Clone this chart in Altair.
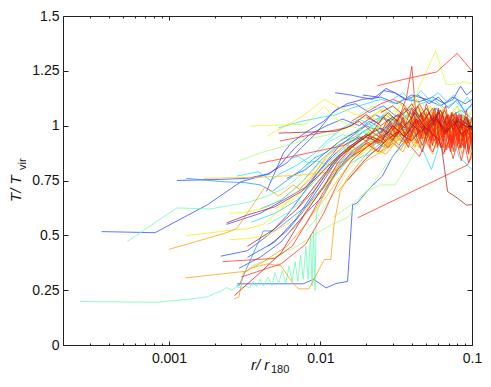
import altair as alt
import pandas as pd

# ---------------- data: radial temperature profiles (r/r180, T/Tvir) ----------------
B1 = [(0.00036, 0.517), (0.00081, 0.512), (0.0018, 0.64), (0.0030, 0.745), (0.0046, 0.78), (0.0054, 0.82), (0.0068, 0.90), (0.0085, 0.96), (0.011, 1.0), (0.014, 1.03), (0.018, 1.0), (0.023, 1.05), (0.028, 1.02), (0.034, 1.06), (0.041, 1.0), (0.05, 1.04), (0.06, 0.98), (0.072, 1.03), (0.085, 0.97), (0.1, 1.0)]
B2 = [(0.00113, 0.75), (0.0022, 0.755), (0.0033, 0.76), (0.0045, 0.78), (0.006, 0.83), (0.0075, 0.90), (0.0095, 0.97), (0.012, 1.06), (0.015, 1.1), (0.019, 1.12), (0.025, 1.13), (0.032, 1.10), (0.04, 1.14), (0.05, 1.12), (0.062, 1.09), (0.075, 1.13), (0.09, 1.10), (0.1, 1.12)]
B3 = [(0.00282, 0.279), (0.0045, 0.279), (0.0077, 0.279), (0.0090, 0.30), (0.0109, 0.26), (0.0126, 0.28), (0.0151, 0.29), (0.0163, 0.64), (0.0173, 0.645), (0.0208, 0.71), (0.0256, 0.77), (0.030, 0.86), (0.035, 0.92), (0.041, 0.97), (0.048, 1.0), (0.056, 0.95), (0.065, 1.02), (0.075, 0.98), (0.087, 1.03), (0.1, 0.99)]
B4 = [(0.0125, 1.15), (0.0158, 1.14), (0.0184, 1.13), (0.022, 1.12), (0.026, 1.16), (0.031, 1.15), (0.037, 1.12), (0.044, 1.14), (0.052, 1.10), (0.06, 1.13), (0.07, 1.08), (0.08, 1.12), (0.09, 1.06), (0.1, 1.10)]
B5 = [(0.019, 1.14), (0.024, 1.13), (0.027, 1.17), (0.031, 1.15), (0.036, 1.12), (0.045, 1.11), (0.055, 1.13), (0.066, 1.10), (0.075, 1.12), (0.084, 1.18), (0.092, 1.14), (0.1, 1.16)]
B6 = [(0.0022, 0.405), (0.0033, 0.43), (0.0045, 0.50), (0.006, 0.59), (0.0075, 0.68), (0.0095, 0.78), (0.012, 0.86), (0.015, 0.92), (0.019, 0.95), (0.024, 0.93), (0.03, 0.99), (0.037, 0.96), (0.045, 1.02), (0.055, 0.97), (0.066, 1.0), (0.08, 0.95), (0.1, 0.98)]
B7 = [(0.0029, 0.35), (0.004, 0.40), (0.0055, 0.47), (0.0075, 0.58), (0.0104, 0.68), (0.013, 0.80), (0.016, 0.88), (0.02, 0.93), (0.025, 0.97), (0.031, 1.02), (0.038, 0.98), (0.046, 1.05), (0.056, 1.0), (0.068, 1.04), (0.082, 0.98), (0.1, 1.02)]
B10 = [(0.0044, 0.70), (0.0057, 0.876), (0.0064, 0.92), (0.008, 0.97), (0.0105, 1.02), (0.013, 1.08), (0.017, 1.1), (0.021, 1.06), (0.026, 1.09), (0.032, 1.04), (0.04, 1.08), (0.05, 1.02), (0.06, 1.06), (0.072, 1.0), (0.086, 1.05), (0.1, 1.02)]
B12 = [(0.0024, 0.55), (0.004, 0.6), (0.006, 0.67), (0.008, 0.72), (0.0105, 0.82), (0.013, 0.9), (0.016, 0.95), (0.02, 1.0), (0.025, 0.97), (0.03, 1.03), (0.036, 0.98), (0.043, 1.05), (0.05, 1.0), (0.06, 1.06), (0.07, 1.01), (0.082, 1.05), (0.1, 1.01)]
B13 = [(0.0045, 0.45), (0.006, 0.52), (0.0075, 0.6), (0.009, 0.68), (0.011, 0.77), (0.013, 0.85), (0.016, 0.91), (0.02, 0.96), (0.024, 0.92), (0.029, 1.0), (0.035, 0.96), (0.042, 1.03), (0.05, 0.98), (0.06, 1.04), (0.072, 0.99), (0.086, 1.03), (0.1, 0.98)]
E1 = [(0.0033, 0.40), (0.005, 0.47), (0.007, 0.58), (0.0095, 0.72), (0.012, 0.83), (0.015, 0.9), (0.019, 0.94), (0.024, 0.99), (0.03, 0.95), (0.037, 1.01), (0.045, 0.97), (0.055, 1.03), (0.067, 0.98), (0.082, 1.02), (0.1, 0.97)]
E9 = [(0.006, 0.76), (0.008, 0.8), (0.0105, 0.87), (0.0135, 0.93), (0.017, 0.97), (0.021, 1.02), (0.026, 0.98), (0.032, 1.05), (0.039, 1.0), (0.047, 1.06), (0.057, 1.01), (0.069, 1.05), (0.083, 0.99), (0.1, 1.03)]
B8 = [(0.0028, 0.27), (0.0029, 0.27), (0.0042, 0.52), (0.0050, 0.52), (0.0083, 0.64), (0.011, 0.74), (0.014, 0.84), (0.018, 0.90), (0.022, 0.93), (0.027, 0.90), (0.033, 0.97), (0.04, 1.0), (0.048, 0.94), (0.058, 1.0), (0.07, 0.96), (0.085, 1.02), (0.1, 0.97)]
C1 = [(0.0013, 0.76), (0.0022, 0.745), (0.0032, 0.74), (0.004, 0.73), (0.0048, 0.70), (0.006, 0.75), (0.0075, 0.80), (0.009, 0.85), (0.011, 0.88), (0.014, 0.94), (0.018, 0.98), (0.022, 1.02), (0.027, 1.05), (0.033, 1.0), (0.04, 1.06), (0.048, 1.03), (0.058, 1.08), (0.07, 1.04), (0.085, 1.07), (0.1, 1.03)]
E2 = [(0.004, 0.62), (0.0055, 0.66), (0.0075, 0.74), (0.01, 0.84), (0.013, 0.91), (0.017, 0.95), (0.021, 0.99), (0.026, 1.04), (0.032, 1.0), (0.039, 1.06), (0.047, 1.01), (0.057, 1.05), (0.07, 0.99), (0.085, 1.04), (0.1, 1.0)]
C2 = [(0.0053, 0.99), (0.0075, 1.02), (0.0105, 1.04), (0.0127, 1.05), (0.016, 1.08), (0.02, 1.1), (0.025, 1.12), (0.031, 1.1), (0.038, 1.13), (0.046, 1.1), (0.056, 1.12), (0.066, 1.08), (0.078, 1.11), (0.09, 1.07), (0.1, 1.09)]
C3 = [(0.0063, 0.85), (0.0072, 0.86), (0.0082, 0.83), (0.0095, 0.84), (0.011, 0.82), (0.013, 0.83), (0.0147, 0.84), (0.018, 0.88), (0.022, 0.92), (0.027, 0.95), (0.033, 0.9), (0.04, 0.97), (0.048, 0.93), (0.057, 0.99), (0.066, 0.93), (0.075, 0.97), (0.085, 0.91), (0.1, 0.95)]
C4 = [(0.02, 0.86), (0.025, 0.9), (0.03, 0.93), (0.036, 0.97), (0.043, 0.95), (0.05, 0.99), (0.058, 0.93), (0.066, 0.9), (0.074, 0.95), (0.082, 0.86), (0.09, 0.83), (0.1, 0.80)]
C5 = [(0.016, 0.83), (0.02, 0.87), (0.025, 0.92), (0.03, 0.96), (0.036, 0.93), (0.042, 1.0), (0.048, 0.88), (0.054, 0.80), (0.06, 0.9), (0.067, 0.96), (0.075, 0.92), (0.085, 1.0), (0.1, 0.96)]
C7 = [(0.0028, 0.77), (0.0039, 0.79), (0.0047, 0.75), (0.0054, 0.78), (0.007, 0.82), (0.009, 0.87), (0.011, 0.93), (0.014, 0.99), (0.018, 1.03), (0.022, 1.0), (0.027, 1.06), (0.033, 1.02), (0.04, 1.07), (0.048, 1.03), (0.057, 1.08), (0.068, 1.03), (0.08, 1.06), (0.1, 1.02)]
E3 = [(0.0035, 0.56), (0.005, 0.6), (0.007, 0.66), (0.0095, 0.76), (0.012, 0.85), (0.015, 0.91), (0.019, 0.97), (0.024, 0.94), (0.03, 1.01), (0.037, 0.97), (0.045, 1.04), (0.055, 0.99), (0.066, 1.05), (0.08, 1.0), (0.1, 1.03)]
E11 = [(0.01, 0.7), (0.0125, 0.77), (0.015, 0.84), (0.018, 0.9), (0.022, 0.95), (0.027, 0.99), (0.033, 0.95), (0.04, 1.02), (0.048, 0.98), (0.058, 1.04), (0.07, 0.99), (0.085, 1.03), (0.1, 0.99)]
F6 = [(0.03, 1.12), (0.035, 1.15), (0.04, 1.11), (0.046, 1.16), (0.052, 1.12), (0.06, 1.15), (0.068, 1.11), (0.076, 1.14), (0.085, 1.09), (0.093, 1.13), (0.1, 1.1)]
A1 = [(0.00026, 0.198), (0.00083, 0.195), (0.0013, 0.207), (0.0018, 0.22), (0.002, 0.235), (0.0022, 0.245), (0.0024, 0.262), (0.0026, 0.25), (0.0028, 0.265), (0.003, 0.26), (0.0032, 0.27), (0.0034, 0.26), (0.0036, 0.29), (0.0038, 0.265), (0.004, 0.30), (0.0042, 0.27), (0.0045, 0.31), (0.0048, 0.27), (0.005, 0.33), (0.0053, 0.28), (0.0056, 0.34), (0.0059, 0.28), (0.0062, 0.36), (0.0065, 0.29), (0.0068, 0.38), (0.0071, 0.29), (0.0074, 0.41), (0.0077, 0.30), (0.008, 0.45), (0.0083, 0.30), (0.0086, 0.50), (0.0088, 0.27), (0.009, 0.52), (0.0092, 0.25), (0.0094, 0.60), (0.011, 0.72), (0.014, 0.82), (0.018, 0.88), (0.022, 0.92), (0.027, 0.95), (0.033, 0.93), (0.04, 0.98), (0.048, 0.95), (0.057, 1.0), (0.068, 0.96), (0.08, 1.0), (0.1, 0.96)]
A2 = [(0.00053, 0.472), (0.00113, 0.625), (0.00186, 0.62), (0.0033, 0.65), (0.0045, 0.68), (0.006, 0.72), (0.0075, 0.78), (0.009, 0.85), (0.011, 0.92), (0.014, 0.96), (0.018, 0.93), (0.022, 0.99), (0.027, 0.96), (0.033, 1.02), (0.04, 0.97), (0.048, 1.03), (0.058, 0.98), (0.07, 1.02), (0.085, 0.97), (0.1, 1.0)]
D7 = [(0.016, 0.92), (0.019, 0.97), (0.023, 1.0), (0.027, 0.96), (0.032, 1.03), (0.037, 0.98), (0.042, 1.04), (0.048, 0.99), (0.055, 1.05), (0.062, 0.98), (0.07, 1.04), (0.078, 0.97), (0.088, 1.02), (0.1, 0.97)]
E4 = [(0.0045, 0.55), (0.006, 0.6), (0.008, 0.67), (0.0105, 0.77), (0.0135, 0.86), (0.017, 0.92), (0.021, 0.97), (0.026, 0.94), (0.032, 1.0), (0.039, 0.96), (0.047, 1.02), (0.057, 0.97), (0.069, 1.03), (0.083, 0.98), (0.1, 1.01)]
A3 = [(0.0035, 0.36), (0.005, 0.40), (0.007, 0.45), (0.0095, 0.51), (0.012, 0.55), (0.015, 0.58), (0.018, 0.65), (0.022, 0.73), (0.027, 0.82), (0.032, 0.88), (0.038, 0.93), (0.045, 0.9), (0.053, 0.96), (0.062, 0.93), (0.073, 0.98), (0.085, 0.94), (0.1, 0.97)]
A4 = [(0.012, 0.58), (0.016, 0.64), (0.02, 0.70), (0.025, 0.73), (0.031, 0.73), (0.036, 0.80), (0.042, 0.88), (0.05, 0.93), (0.058, 0.9), (0.066, 0.96), (0.075, 0.93), (0.086, 0.98), (0.1, 0.95)]
A5 = [(0.0029, 0.84), (0.0042, 0.88), (0.006, 0.91), (0.0085, 0.94), (0.0127, 0.966), (0.016, 1.0), (0.02, 0.97), (0.025, 1.04), (0.031, 1.0), (0.038, 1.06), (0.046, 1.02), (0.055, 1.07), (0.065, 1.02), (0.077, 1.05), (0.09, 1.0), (0.1, 1.03)]
D6 = [(0.014, 0.9), (0.017, 0.95), (0.02, 1.02), (0.023, 0.98), (0.027, 1.05), (0.031, 1.0), (0.035, 1.06), (0.04, 1.01), (0.045, 1.08), (0.051, 1.02), (0.057, 1.07), (0.064, 1.0), (0.072, 1.05), (0.08, 0.99), (0.089, 1.04), (0.1, 1.0)]
E8 = [(0.008, 0.52), (0.01, 0.6), (0.0125, 0.7), (0.015, 0.79), (0.018, 0.86), (0.022, 0.91), (0.027, 0.95), (0.033, 0.92), (0.04, 0.98), (0.048, 0.94), (0.058, 1.0), (0.07, 0.95), (0.085, 1.01), (0.1, 0.96)]
F5 = [(0.018, 1.05), (0.022, 1.09), (0.027, 1.06), (0.032, 1.11), (0.038, 1.07), (0.045, 1.12), (0.052, 1.06), (0.06, 1.1), (0.07, 1.04), (0.08, 1.09), (0.09, 1.03), (0.1, 1.07)]
G3 = [(0.0025, 0.60), (0.0033, 0.607), (0.0045, 0.63), (0.006, 0.68), (0.008, 0.76), (0.0105, 0.85), (0.013, 0.92), (0.016, 0.97), (0.02, 0.94), (0.025, 1.0), (0.03, 0.96), (0.036, 1.02), (0.043, 0.97), (0.05, 1.03), (0.06, 0.98), (0.072, 1.02), (0.085, 0.96), (0.1, 0.99)]
G4 = [(0.0034, 0.998), (0.008, 1.007), (0.0106, 1.088), (0.0127, 1.03), (0.016, 1.0), (0.02, 1.05), (0.025, 1.02), (0.031, 1.07), (0.037, 1.03), (0.045, 1.08), (0.054, 1.02), (0.064, 1.06), (0.076, 1.01), (0.088, 1.05), (0.1, 1.02)]
GY = [(0.02, 0.97), (0.026, 1.0), (0.032, 1.02), (0.037, 1.07), (0.041, 1.1), (0.045, 1.18), (0.0575, 1.34), (0.0677, 1.187), (0.078, 1.19), (0.0889, 1.2), (0.1, 1.19)]
Y1 = [(0.00445, 0.953), (0.0075, 1.04), (0.0106, 1.12), (0.0127, 1.09), (0.016, 1.06), (0.02, 1.03), (0.025, 1.07), (0.03, 1.02), (0.036, 1.08), (0.043, 1.0), (0.05, 1.05), (0.058, 0.99), (0.066, 1.04), (0.075, 0.98), (0.086, 1.03), (0.1, 1.0)]
Y2 = [(0.0013, 0.499), (0.0028, 0.526), (0.0033, 0.53), (0.0042, 0.55), (0.0055, 0.62), (0.007, 0.70), (0.009, 0.78), (0.011, 0.85), (0.014, 0.9), (0.018, 0.88), (0.022, 0.94), (0.027, 0.9), (0.033, 0.97), (0.04, 0.93), (0.048, 0.99), (0.057, 0.94), (0.068, 1.0), (0.08, 0.95), (0.1, 0.98)]
Y3 = [(0.0025, 0.48), (0.0033, 0.485), (0.0045, 0.5), (0.006, 0.55), (0.008, 0.62), (0.0105, 0.72), (0.013, 0.8), (0.016, 0.86), (0.02, 0.9), (0.025, 0.87), (0.03, 0.95), (0.036, 0.92), (0.043, 0.98), (0.05, 0.94), (0.06, 1.0), (0.07, 0.96), (0.082, 1.01), (0.1, 0.97)]
D2 = [(0.018, 0.86), (0.021, 0.92), (0.024, 0.97), (0.027, 0.93), (0.03, 1.0), (0.033, 0.94), (0.037, 1.04), (0.041, 0.98), (0.045, 1.07), (0.049, 0.99), (0.054, 1.06), (0.059, 0.97), (0.064, 1.05), (0.069, 0.98), (0.075, 1.04), (0.081, 0.96), (0.088, 1.03), (0.094, 0.97), (0.1, 1.02)]
E5 = [(0.005, 0.62), (0.0065, 0.66), (0.0085, 0.73), (0.011, 0.82), (0.014, 0.88), (0.018, 0.93), (0.022, 0.97), (0.027, 0.93), (0.033, 1.0), (0.04, 0.95), (0.048, 1.02), (0.058, 0.97), (0.07, 1.03), (0.085, 0.97), (0.1, 1.0)]
F4 = [(0.022, 1.04), (0.026, 1.08), (0.03, 1.03), (0.034, 1.1), (0.038, 1.05), (0.043, 1.12), (0.048, 1.04), (0.053, 1.09), (0.059, 1.02), (0.065, 1.08), (0.072, 1.03), (0.08, 1.09), (0.088, 1.02), (0.1, 1.06)]
O5 = [(0.0017, 0.76), (0.004, 0.765), (0.0075, 0.775), (0.012, 0.79), (0.015, 0.84), (0.019, 0.90), (0.024, 0.94), (0.029, 0.91), (0.035, 0.97), (0.042, 0.93), (0.05, 1.0), (0.06, 0.95), (0.071, 1.01), (0.085, 0.95), (0.1, 0.98)]
D8 = [(0.027, 0.9), (0.03, 0.96), (0.033, 1.0), (0.036, 0.95), (0.039, 1.03), (0.042, 0.98), (0.045, 1.05), (0.048, 0.96), (0.051, 1.02), (0.054, 0.94), (0.057, 1.03), (0.06, 0.98), (0.064, 1.07), (0.068, 0.97), (0.072, 1.03), (0.076, 0.95), (0.08, 1.0), (0.085, 0.93), (0.09, 1.0), (0.095, 0.92), (0.1, 0.97)]
E10 = [(0.009, 0.6), (0.011, 0.68), (0.0135, 0.77), (0.0165, 0.85), (0.02, 0.9), (0.024, 0.94), (0.029, 0.9), (0.035, 0.97), (0.042, 0.92), (0.05, 0.99), (0.06, 0.93), (0.072, 1.0), (0.086, 0.94), (0.1, 0.98)]
O1 = [(0.001, 0.436), (0.0023, 0.508), (0.0028, 0.53), (0.0043, 0.72), (0.0053, 0.68), (0.0058, 0.70), (0.0066, 0.73), (0.0073, 0.71), (0.0087, 0.76), (0.011, 0.86), (0.014, 0.92), (0.018, 0.89), (0.022, 0.95), (0.027, 0.92), (0.033, 0.98), (0.04, 0.94), (0.048, 1.0), (0.057, 0.95), (0.068, 1.01), (0.08, 0.96), (0.1, 0.99)]
O2 = [(0.00128, 0.306), (0.0033, 0.337), (0.0034, 0.35), (0.0045, 0.37), (0.0055, 0.36), (0.0066, 0.28), (0.0072, 0.256), (0.0084, 0.256), (0.0106, 0.39), (0.0117, 0.39), (0.0123, 0.55), (0.0135, 0.70), (0.015, 0.76), (0.018, 0.83), (0.022, 0.9), (0.027, 0.87), (0.033, 0.94), (0.04, 0.9), (0.048, 0.97), (0.058, 0.92), (0.07, 0.98), (0.084, 0.93), (0.1, 0.96)]
O3 = [(0.0027, 0.21), (0.0029, 0.22), (0.0031, 0.33), (0.0042, 0.38), (0.006, 0.45), (0.008, 0.55), (0.0105, 0.68), (0.013, 0.80), (0.016, 0.87), (0.02, 0.92), (0.025, 0.88), (0.03, 0.96), (0.036, 0.92), (0.043, 0.99), (0.051, 0.93), (0.06, 1.0), (0.07, 0.95), (0.082, 1.0), (0.1, 0.96)]
D1 = [(0.015, 0.88), (0.018, 0.93), (0.021, 0.97), (0.024, 0.92), (0.027, 1.01), (0.03, 0.95), (0.033, 1.03), (0.036, 0.96), (0.04, 1.05), (0.044, 0.97), (0.048, 1.04), (0.052, 0.95), (0.057, 1.06), (0.062, 0.96), (0.067, 1.03), (0.073, 0.94), (0.079, 1.02), (0.086, 0.95), (0.093, 1.01), (0.1, 0.94)]
D11 = [(0.013, 0.7), (0.016, 0.77), (0.02, 0.84), (0.025, 0.88), (0.03, 0.92), (0.035, 0.88), (0.04, 0.96), (0.045, 0.9), (0.05, 0.98), (0.055, 0.91), (0.061, 0.99), (0.067, 0.9), (0.074, 0.97), (0.082, 0.89), (0.09, 0.97), (0.1, 0.91)]
E6 = [(0.006, 0.5), (0.0075, 0.57), (0.0095, 0.68), (0.012, 0.79), (0.015, 0.87), (0.019, 0.92), (0.023, 0.96), (0.028, 0.92), (0.034, 0.99), (0.041, 0.94), (0.049, 1.01), (0.058, 0.95), (0.07, 1.02), (0.084, 0.96), (0.1, 0.99)]
F2 = [(0.026, 0.88), (0.03, 0.92), (0.034, 0.89), (0.038, 0.96), (0.042, 0.9), (0.046, 0.98), (0.05, 0.92), (0.055, 0.87), (0.06, 0.96), (0.065, 0.9), (0.07, 0.98), (0.075, 0.89), (0.08, 0.95), (0.086, 0.87), (0.092, 0.94), (0.1, 0.86)]
R1 = [(0.0238, 1.182), (0.035, 1.21), (0.0585, 1.245), (0.0798, 1.33), (0.1, 1.25)]
R2 = [(0.016, 0.86), (0.02, 0.9), (0.025, 0.95), (0.03, 0.98), (0.034, 1.06), (0.037, 1.13), (0.0401, 1.27), (0.042, 1.1), (0.044, 1.0), (0.047, 0.94), (0.05, 1.02), (0.053, 0.92), (0.056, 1.05), (0.059, 0.9), (0.062, 1.03), (0.066, 0.88), (0.07, 1.02), (0.074, 0.92), (0.079, 1.05), (0.084, 0.9), (0.09, 1.0), (0.095, 0.87), (0.1, 0.98)]
R3 = [(0.0176, 0.58), (0.093, 0.82), (0.1, 0.86)]
R8 = [(0.0054, 0.93), (0.0147, 0.99), (0.018, 1.02), (0.022, 0.97), (0.026, 1.04), (0.03, 0.98), (0.034, 1.05), (0.038, 0.96), (0.042, 1.03), (0.046, 0.94), (0.05, 1.05), (0.055, 0.95), (0.06, 1.06), (0.065, 0.93), (0.07, 1.03), (0.075, 0.92), (0.08, 1.04), (0.086, 0.93), (0.093, 1.02), (0.1, 0.94)]
R9 = [(0.0039, 0.827), (0.0143, 0.91), (0.018, 0.95), (0.022, 0.91), (0.026, 0.98), (0.03, 0.93), (0.034, 1.0), (0.038, 0.92), (0.042, 1.02), (0.046, 0.95), (0.05, 1.04), (0.054, 0.93), (0.058, 1.02), (0.062, 0.9), (0.067, 1.0), (0.072, 0.88), (0.077, 0.99), (0.083, 0.9), (0.09, 1.0), (0.1, 0.93)]
R10 = [(0.00226, 0.38), (0.005, 0.395), (0.0065, 0.45), (0.0083, 0.57), (0.0105, 0.70), (0.013, 0.8), (0.016, 0.86), (0.02, 0.92), (0.024, 0.88), (0.028, 0.96), (0.033, 0.91), (0.038, 0.99), (0.044, 0.92), (0.05, 1.02), (0.056, 0.93), (0.063, 1.0), (0.07, 0.9), (0.078, 0.99), (0.087, 0.91), (0.1, 0.97)]
R11 = [(0.003, 0.31), (0.0055, 0.37), (0.008, 0.46), (0.0105, 0.6), (0.013, 0.74), (0.016, 0.84), (0.02, 0.9), (0.024, 0.94), (0.028, 0.9), (0.032, 0.97), (0.037, 0.92), (0.042, 1.0), (0.047, 0.91), (0.053, 1.01), (0.059, 0.92), (0.066, 1.02), (0.073, 0.9), (0.081, 1.0), (0.09, 0.91), (0.1, 0.97)]
E7 = [(0.007, 0.62), (0.009, 0.7), (0.0115, 0.8), (0.0145, 0.88), (0.018, 0.93), (0.022, 0.97), (0.027, 0.93), (0.032, 1.01), (0.038, 0.95), (0.045, 1.03), (0.053, 0.94), (0.062, 1.02), (0.073, 0.93), (0.086, 1.0), (0.1, 0.94)]
D3 = [(0.02, 0.93), (0.023, 0.99), (0.026, 0.94), (0.029, 1.02), (0.032, 0.95), (0.035, 1.04), (0.038, 0.97), (0.041, 1.07), (0.044, 0.96), (0.047, 1.05), (0.05, 0.93), (0.053, 1.04), (0.056, 0.96), (0.06, 1.08), (0.064, 0.95), (0.068, 1.05), (0.072, 0.92), (0.076, 1.02), (0.08, 0.91), (0.085, 1.03), (0.09, 0.9), (0.095, 1.0), (0.1, 0.92)]
D4 = [(0.025, 0.97), (0.028, 1.03), (0.031, 0.96), (0.034, 1.01), (0.037, 0.93), (0.04, 1.03), (0.043, 0.95), (0.046, 1.06), (0.049, 0.96), (0.052, 1.03), (0.055, 0.91), (0.058, 1.04), (0.061, 0.94), (0.064, 1.06), (0.067, 0.96), (0.07, 1.04), (0.073, 0.9), (0.077, 1.01), (0.081, 0.92), (0.085, 1.04), (0.089, 0.93), (0.094, 1.02), (0.1, 0.88)]
D5 = [(0.022, 0.9), (0.025, 0.95), (0.028, 0.99), (0.031, 0.94), (0.034, 1.02), (0.038, 0.98), (0.042, 1.04), (0.046, 0.97), (0.05, 1.06), (0.054, 0.99), (0.058, 1.03), (0.063, 0.95), (0.068, 1.02), (0.073, 0.96), (0.078, 1.05), (0.083, 0.97), (0.088, 1.02), (0.094, 0.94), (0.1, 0.99)]
D10 = [(0.016, 1.02), (0.02, 1.06), (0.025, 1.1), (0.03, 1.12), (0.035, 1.1), (0.04, 1.05), (0.045, 1.1), (0.05, 1.04), (0.055, 1.08), (0.06, 1.01), (0.066, 1.07), (0.072, 1.0), (0.078, 1.06), (0.085, 0.98), (0.092, 1.04), (0.1, 0.99)]
D12 = [(0.03, 0.98), (0.035, 1.02), (0.04, 0.97), (0.045, 1.03), (0.05, 0.98), (0.055, 1.06), (0.058, 0.92), (0.061, 1.05), (0.064, 0.9), (0.067, 1.04), (0.07, 0.93), (0.073, 1.06), (0.076, 0.91), (0.079, 1.03), (0.082, 0.92), (0.085, 1.05), (0.088, 0.9), (0.091, 1.0), (0.094, 0.88), (0.097, 0.99), (0.1, 0.9)]
F1 = [(0.03, 1.0), (0.033, 1.05), (0.036, 1.0), (0.04, 1.08), (0.043, 1.02), (0.046, 0.99), (0.05, 1.1), (0.054, 1.03), (0.057, 1.08), (0.06, 0.99), (0.063, 1.04), (0.067, 1.09), (0.07, 1.01), (0.074, 1.06), (0.078, 0.98), (0.082, 1.05), (0.087, 1.0), (0.092, 1.07), (0.096, 0.99), (0.1, 1.04)]
F3 = [(0.035, 0.95), (0.038, 0.9), (0.041, 0.98), (0.044, 0.93), (0.047, 0.88), (0.05, 0.97), (0.053, 0.9), (0.056, 0.99), (0.06, 0.91), (0.064, 0.97), (0.068, 0.89), (0.072, 0.96), (0.076, 0.88), (0.08, 0.97), (0.085, 0.9), (0.09, 0.98), (0.095, 0.89), (0.1, 0.95)]
F7 = [(0.04, 0.9), (0.045, 0.86), (0.05, 0.93), (0.055, 0.88), (0.06, 0.95), (0.065, 0.87), (0.07, 0.93), (0.075, 0.85), (0.08, 0.92), (0.085, 0.84), (0.09, 0.91), (0.095, 0.83), (0.1, 0.88)]
R5 = [(0.0027, 0.225), (0.004, 0.33), (0.0055, 0.42), (0.008, 0.607), (0.0105, 0.72), (0.013, 0.83), (0.016, 0.9), (0.02, 0.95), (0.025, 0.92), (0.03, 1.0), (0.036, 0.95), (0.043, 1.03), (0.05, 0.97), (0.058, 1.04), (0.066, 0.96), (0.076, 1.02), (0.088, 0.95), (0.1, 1.0)]
D9 = [(0.02, 1.04), (0.024, 1.01), (0.028, 1.06), (0.032, 1.02), (0.036, 1.08), (0.04, 1.03), (0.044, 1.09), (0.048, 1.02), (0.052, 1.06), (0.056, 1.0), (0.06, 1.07), (0.065, 1.01), (0.07, 1.05), (0.075, 0.98), (0.08, 1.04), (0.086, 0.99), (0.093, 1.03), (0.1, 0.98)]
R4 = [(0.015, 0.75), (0.02, 0.85), (0.026, 0.92), (0.032, 0.97), (0.04, 0.93), (0.048, 1.0), (0.055, 0.96), (0.06, 0.94), (0.063, 0.9), (0.066, 0.80), (0.069, 0.70), (0.08, 0.67), (0.0917, 0.638), (0.1, 0.64)]
R6 = [(0.0024, 0.557), (0.0033, 0.593), (0.005, 0.63), (0.0075, 0.7), (0.01, 0.78), (0.013, 0.86), (0.016, 0.91), (0.02, 0.96), (0.025, 0.93), (0.03, 1.0), (0.036, 0.95), (0.043, 1.02), (0.05, 0.96), (0.058, 1.03), (0.068, 0.97), (0.08, 1.02), (0.1, 0.98)]
R7 = [(0.0053, 0.966), (0.0127, 0.975), (0.016, 1.0), (0.02, 1.05), (0.025, 1.0), (0.03, 1.04), (0.036, 0.99), (0.042, 1.06), (0.05, 0.98), (0.058, 1.05), (0.066, 0.97), (0.075, 1.03), (0.085, 0.96), (0.1, 1.0)]
E12 = [(0.0033, 0.45), (0.005, 0.53), (0.007, 0.62), (0.0095, 0.74), (0.0125, 0.84), (0.016, 0.9), (0.02, 0.95), (0.025, 0.99), (0.031, 0.95), (0.038, 1.02), (0.046, 0.97), (0.056, 1.04), (0.068, 0.98), (0.083, 1.03), (0.1, 0.99)]
F8 = [(0.025, 1.06), (0.03, 1.09), (0.035, 1.05), (0.04, 1.1), (0.045, 1.04), (0.05, 1.08), (0.056, 1.02), (0.062, 1.07), (0.068, 1.0), (0.075, 1.05), (0.083, 0.99), (0.091, 1.04), (0.1, 0.98)]

# profile list in drawing order: (colour key, profile)
LINES = [
    ("blue", B1), ("blue", B2), ("blue", B3), ("blue", B4), ("blue", B5), ("blue", B6),
    ("blue", B7), ("blue", B10), ("blue", B12), ("blue", B13), ("blue", E1), ("blue", E9),
    ("lblue", B8), ("lblue", C1), ("lblue", E2),
    ("cyan", C2), ("cyan", C3), ("cyan", C4), ("cyan", C5), ("cyan", C7), ("cyan", E3),
    ("cyan", E11), ("cyan", F6),
    ("aqua", A1), ("aqua", A2), ("aqua", D7), ("aqua", E4),
    ("lgreen", A3), ("lgreen", A4), ("lgreen", A5), ("lgreen", D6), ("lgreen", E8), ("lgreen", F5),
    ("ygreen", G3), ("ygreen", G4), ("ygreen", GY),
    ("yellow", Y1), ("yellow", Y2), ("yellow", Y3), ("yellow", D2), ("yellow", E5), ("yellow", F4),
    ("gold", O5), ("gold", D8), ("gold", E10),
    ("orange", O1), ("orange", O2), ("orange", O3), ("orange", D1), ("orange", D11),
    ("orange", E6), ("orange", F2),
    ("red", R1), ("red", R2), ("red", R3), ("red", R8), ("red", R9), ("red", R10),
    ("red", R11), ("red", E7), ("red", D3), ("red", D4), ("orred", D5), ("red", D10),
    ("red", D12), ("red", F1), ("red", F3), ("red", F7),
    ("dred", R5), ("dred", D9),
    ("brown", R4), ("brown", R6), ("brown", R7), ("brown", E12), ("brown", F8),
]

# axis ticks / labels
X_LABELS = [0.001, 0.01, 0.1]
X_TICKS = [0.0002, 0.0003, 0.0004, 0.0005, 0.0006, 0.0007, 0.0008, 0.0009,
           0.001, 0.002, 0.003, 0.004, 0.005, 0.006, 0.007, 0.008, 0.009,
           0.01, 0.02, 0.03, 0.04, 0.05, 0.06, 0.07, 0.08, 0.09, 0.1]
Y_TICKS = [0, 0.25, 0.5, 0.75, 1, 1.25, 1.5]
X_DOMAIN = [0.0002, 0.1]
Y_DOMAIN = [0, 1.5]

# ---------------- styles ----------------
PALETTE = {
    "blue": "#2440ff", "lblue": "#1090ff", "cyan": "#18d8ff", "aqua": "#5cffb0",
    "lgreen": "#9cff70", "ygreen": "#d0ff30", "yellow": "#ffe800", "gold": "#ffc000",
    "orange": "#ff9800", "orred": "#ff6000", "red": "#ff2a10", "dred": "#d81010",
    "brown": "#b01818",
}
W, H = 409, 329
FRAME = "#222222"
FONT = "Liberation Sans"

rows = []
for i, (c, pts) in enumerate(LINES):
    for k, (x, y) in enumerate(pts):
        rows.append({"id": f"L{i:02d}", "k": k, "x": x, "y": y})
df = pd.DataFrame(rows)
ids = [f"L{i:02d}" for i in range(len(LINES))]
cols = [PALETTE[c] for c, _ in LINES]

xs = alt.Scale(type="log", domain=X_DOMAIN)
ys = alt.Scale(domain=Y_DOMAIN)
DEC = "abs(log(datum.value)/LN10 - round(log(datum.value)/LN10)) < 0.01"
xtick_size = {"condition": {"test": DEC, "value": 4}, "value": 2}

base = alt.Chart(df)

lines = base.mark_line(strokeWidth=1, opacity=0.72, clip=True).encode(
    x=alt.X("x:Q", scale=xs, axis=alt.Axis(orient="bottom", values=X_LABELS,
                                           labelExpr="format(datum.value, '.3~f')", ticks=False,
                                           grid=False, title=None, labelFontSize=14, labelPadding=6,
                                           labelColor="#111", domainColor=FRAME, labelFlush=False,
                                           labelFont=FONT, zindex=2)),
    y=alt.Y("y:Q", scale=ys, axis=alt.Axis(orient="left", values=Y_TICKS,
                                           labelExpr="format(datum.value, '.2~f')", ticks=False,
                                           grid=False, title=None, labelFontSize=14, labelPadding=4,
                                           labelColor="#111", domainColor=FRAME, labelFlush=False,
                                           labelFont=FONT, zindex=2)),
    color=alt.Color("id:N", scale=alt.Scale(domain=ids, range=cols), legend=None),
    order=alt.Order("k:Q"),
)

ticks_a = base.mark_point(opacity=0, size=1).encode(
    x=alt.X("x:Q", scale=xs, axis=alt.Axis(orient="top", offset=-H, values=X_TICKS, labels=False,
                                           domain=False, grid=False, title=None, tickSize=xtick_size,
                                           tickColor=FRAME, zindex=2)),
    y=alt.Y("y:Q", scale=ys, axis=alt.Axis(orient="right", offset=-W, values=Y_TICKS, labels=False,
                                           domain=False, grid=False, title=None, tickSize=5,
                                           tickColor=FRAME, zindex=2)),
)
ticks_b = base.mark_point(opacity=0, size=1).encode(
    x=alt.X("x:Q", scale=xs, axis=alt.Axis(orient="bottom", offset=-H, values=X_TICKS, labels=False,
                                           domain=True, domainColor=FRAME, grid=False, title=None,
                                           tickSize=xtick_size, tickColor=FRAME, zindex=2)),
    y=alt.Y("y:Q", scale=ys, axis=alt.Axis(orient="left", offset=-W, values=Y_TICKS, labels=False,
                                           domain=True, domainColor=FRAME, grid=False, title=None,
                                           tickSize=5, tickColor=FRAME, zindex=2)),
)

def label(txt, px, py, size, italic, angle=0):
    kw = dict(font=FONT, fontSize=size, align="left", baseline="alphabetic", color="#111")
    if italic:
        kw["fontStyle"] = "italic"
    if angle:
        kw["angle"] = angle
    return alt.Chart(pd.DataFrame({"t": [txt]})).mark_text(**kw).encode(
        text="t:N", x=alt.value(px), y=alt.value(py))

titles = [
    label("T/ T", -42, 186, 15, True, 270),
    label("vir", -37, 154, 11, False, 270),
    label("r/ r", 188, 354, 15, True),
    label("180", 208, 357, 11, False),
]

chart = alt.layer(lines, ticks_a, ticks_b, *titles).resolve_axis(
    x="independent", y="independent"
).properties(
    width=W, height=H, autosize="none",
    padding={"left": 55, "top": 8, "right": 10, "bottom": 29},
).configure_view(stroke=None).configure(font=FONT)

chart.save("out.html", embed_options={"renderer": "svg", "actions": False})
